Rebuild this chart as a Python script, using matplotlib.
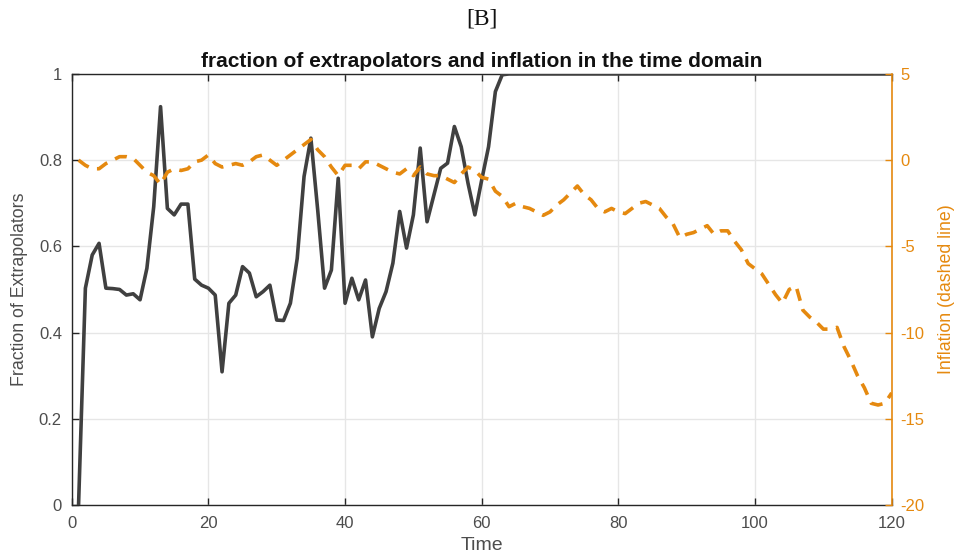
import matplotlib

matplotlib.use("Agg")

import matplotlib.pyplot as plt
import numpy as np

TIME = np.arange(1, 121)

FRACTION = [
    0.0, 0.503, 0.58, 0.607, 0.503, 0.502, 0.50, 0.487, 0.49, 0.476,
    0.549, 0.692, 0.924, 0.688, 0.673, 0.698, 0.698, 0.524, 0.51, 0.503,
    0.487, 0.309, 0.468, 0.487, 0.553, 0.538, 0.483, 0.495, 0.51, 0.429,
    0.428, 0.468, 0.572, 0.762, 0.851, 0.684, 0.503, 0.545, 0.758, 0.468,
    0.526, 0.476, 0.522, 0.39, 0.456, 0.495, 0.561, 0.681, 0.596, 0.673,
    0.828, 0.657, 0.719, 0.781, 0.793, 0.878, 0.831, 0.746, 0.673, 0.754,
    0.831, 0.959, 0.998,
] + [1.0] * 57

INFLATION = [
    0.0, -0.3, -0.5, -0.5, -0.2, 0.0, 0.2, 0.2, 0.1, -0.3,
    -0.7, -0.9, -1.4, -0.7, -0.5, -0.6, -0.5, -0.1, 0.0, 0.3,
    -0.2, -0.4, -0.3, -0.2, -0.3, -0.1, 0.2, 0.3, 0.0, -0.3,
    0.0, 0.3, 0.6, 0.9, 1.2, 0.6, 0.2, -0.4, -0.9, -0.3,
    -0.3, -0.5, -0.1, -0.1, -0.3, -0.5, -0.7, -0.8, -0.5, -0.9,
    -0.4, -0.8, -0.9, -0.9, -1.1, -1.3, -0.8, -0.4, -0.6, -1.0,
    -1.1, -1.8, -2.1, -2.7, -2.5, -2.7, -2.8, -3.0, -3.2, -3.0,
    -2.6, -2.3, -1.9, -1.5, -2.0, -2.3, -2.8, -3.0, -2.8, -3.0,
    -3.1, -2.8, -2.5, -2.4, -2.6, -2.8, -3.3, -3.7, -4.5, -4.3,
    -4.2, -4.0, -3.8, -4.3, -4.1, -4.1, -4.7, -5.2, -6.0, -6.3,
    -6.6, -7.2, -7.8, -8.3, -7.5, -7.3, -8.7, -9.1, -9.4, -9.8,
    -9.8, -9.7, -10.8, -11.6, -12.5, -13.2, -14.1, -14.2, -14.1, -13.5,
]

X_TICKS = [0, 20, 40, 60, 80, 100, 120]
LEFT_TICKS = [0, 0.2, 0.4, 0.6, 0.8, 1]
RIGHT_TICKS = [-20, -15, -10, -5, 0, 5]

DARK = "#404040"
TICK_GRAY = "#4d4d4d"
ORANGE = "#e5890f"

plt.rcParams["font.family"] = ["Liberation Sans", "DejaVu Sans"]
plt.rcParams["axes.unicode_minus"] = False

fig = plt.figure(figsize=(9.64, 5.6), dpi=100)
ax = fig.add_axes([0.0744, 0.0982, 0.8506, 0.7698])

ax.plot(TIME, FRACTION, color=DARK, linewidth=2.6, zorder=3)
ax.set_xlim(0, 120)
ax.set_ylim(0, 1)
ax.set_xticks(X_TICKS)
ax.set_yticks(LEFT_TICKS)
ax.set_yticklabels(["0", "0.2", "0.4", "0.6", "0.8", "1"])
ax.grid(True, color="#e6e6e6", linewidth=1.0)
ax.set_axisbelow(True)
ax.tick_params(direction="in", length=5, colors="#262626", labelcolor=TICK_GRAY,
               labelsize=12, top=True, width=1.0)
ax.tick_params(axis="y", pad=7)
ax.tick_params(axis="x", pad=8)
for side in ("left", "bottom", "top"):
    ax.spines[side].set_color("#262626")
    ax.spines[side].set_linewidth(1.0)
ax.spines["right"].set_visible(False)
ax.set_xlabel("Time", fontsize=14, color=TICK_GRAY, labelpad=4)
ax.set_ylabel("Fraction of Extrapolators", fontsize=12.8, color=TICK_GRAY, labelpad=8)

ax2 = ax.twinx()
ax2.plot(TIME, INFLATION, color=ORANGE, linewidth=2.6, linestyle=(0, (3.4, 2.4)), zorder=2)
ax2.set_ylim(-20, 5)
ax2.set_yticks(RIGHT_TICKS)
ax2.tick_params(direction="in", length=5, colors=ORANGE, labelcolor=ORANGE,
                labelsize=12, width=1.0, pad=6)
for side in ("left", "bottom", "top"):
    ax2.spines[side].set_visible(False)
ax2.spines["right"].set_color(ORANGE)
ax2.spines["right"].set_linewidth(1.2)
ax2.set_ylabel("Inflation (dashed line)", fontsize=12.8, color=ORANGE, labelpad=10)

ax.set_title("fraction of extrapolators and inflation in the time domain",
             fontsize=15, fontweight="bold", color="#111111", pad=5)
fig.text(0.5, 0.966, "[B]", ha="center", va="center", fontsize=17,
         family="Liberation Serif", color="#111111")

fig.savefig("out.png", dpi=100)
